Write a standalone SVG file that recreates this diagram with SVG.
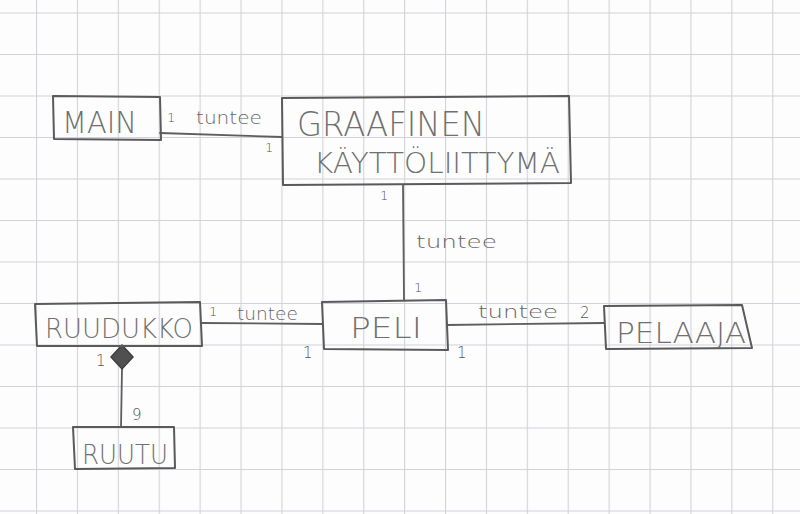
<svg xmlns="http://www.w3.org/2000/svg" width="800" height="514" viewBox="0 0 800 514">
  <defs>
    <pattern id="grid" patternUnits="userSpaceOnUse" x="36" y="12.5" width="40.9" height="41.5">
      <path d="M0.5,0 V41.5 M0,0.5 H40.9" fill="none" stroke="#d2d2da" stroke-width="1.2"/>
    </pattern>
  </defs>
  <style>
    .box { fill: none; stroke: #5a5a5a; stroke-width: 2; stroke-linejoin: round; }
    .edge { fill: none; stroke: #5e5e5e; stroke-width: 1.8; stroke-linecap: round; }
    .name { font-family: "DejaVu Sans", "Liberation Sans", sans-serif; font-weight: 200; fill: #707070; }
    .lbl { font-family: "DejaVu Sans", "Liberation Sans", sans-serif; font-weight: 200; fill: #666666; font-size: 17px; }
    .num { font-family: "DejaVu Sans", "Liberation Sans", sans-serif; font-weight: 200; fill: #555555; font-size: 13px; }
  </style>
  <rect x="0" y="0" width="800" height="514" fill="#fdfdfd"/>
  <rect x="0" y="0" width="800" height="514" fill="url(#grid)"/>

  <g id="connectors">
    <path class="edge" d="M160,133 L282,137"/>
    <text class="num" x="167" y="122">1</text>
    <text class="lbl" x="196" y="124" textLength="66" lengthAdjust="spacingAndGlyphs">tuntee</text>
    <text class="num" x="265" y="152">1</text>

    <path class="edge" d="M403,185 L404,300"/>
    <text class="num" x="380" y="200">1</text>
    <text class="lbl" x="416" y="248" textLength="81" lengthAdjust="spacingAndGlyphs">tuntee</text>
    <text class="num" x="414" y="292">1</text>

    <path class="edge" d="M447,325 L604,323"/>
    <text class="lbl" x="478" y="318" textLength="80" lengthAdjust="spacingAndGlyphs">tuntee</text>
    <text class="num" x="580" y="318" style="font-size:15px">2</text>
    <text class="num" x="457" y="358" style="font-size:15px">1</text>

    <path class="edge" d="M202,323 L322,324"/>
    <text class="num" x="209" y="316">1</text>
    <text class="lbl" x="237" y="320" textLength="61" lengthAdjust="spacingAndGlyphs">tuntee</text>
    <text class="num" x="303" y="358" style="font-size:15px">1</text>

    <path class="edge" d="M122,369 L121,427"/>
    <polygon points="122,345 133,357 122,369 111,357" fill="#505050" stroke="#404040" stroke-width="1.5"/>
    <text class="num" x="96" y="366" style="font-size:15px">1</text>
    <text class="num" x="132" y="420" style="font-size:15px">9</text>
  </g>

  <g id="main">
    <polygon class="box" points="53,96 160,97 161,140 54,139"/>
    <text class="name" x="62" y="133" font-size="31" textLength="75" lengthAdjust="spacingAndGlyphs">MAIN</text>
  </g>

  <g id="graafinen-kayttoliittyma">
    <polygon class="box" points="282,98 569,96 571,183 283,185"/>
    <text class="name" x="297" y="136" font-size="34" textLength="188" lengthAdjust="spacingAndGlyphs">GRAAFINEN</text>
    <text class="name" x="314" y="173" font-size="29" textLength="246" lengthAdjust="spacingAndGlyphs">KÄYTTÖLIITTYMÄ</text>
  </g>

  <g id="peli">
    <polygon class="box" points="322,302 446,300 448,350 324,349"/>
    <text class="name" x="350" y="338" font-size="29" textLength="72" lengthAdjust="spacingAndGlyphs">PELI</text>
  </g>

  <g id="pelaaja">
    <polygon class="box" points="604,306 742,305 752,348 606,349"/>
    <text class="name" x="616" y="343" font-size="28" textLength="130" lengthAdjust="spacingAndGlyphs">PELAAJA</text>
  </g>

  <g id="ruudukko">
    <polygon class="box" points="35,304 200,302 202,346 37,346"/>
    <text class="name" x="45" y="338" font-size="27" textLength="148" lengthAdjust="spacingAndGlyphs">RUUDUKKO</text>
  </g>

  <g id="ruutu">
    <polygon class="box" points="73,427 174,427 175,468 75,469"/>
    <text class="name" x="82" y="464" font-size="27" textLength="86" lengthAdjust="spacingAndGlyphs">RUUTU</text>
  </g>
</svg>
